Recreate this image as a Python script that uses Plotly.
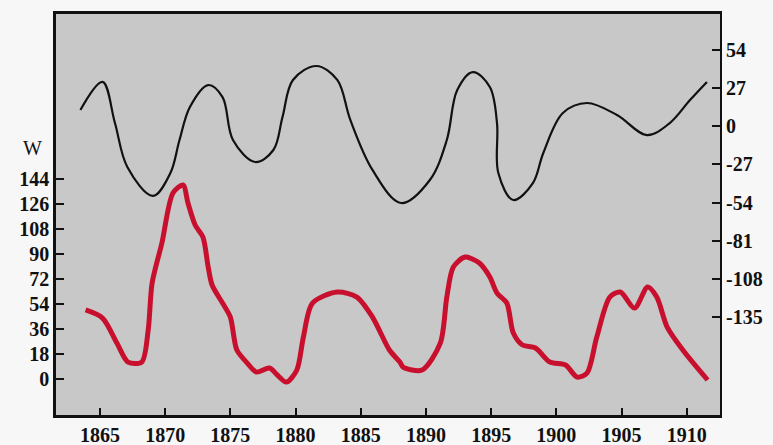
import plotly.graph_objects as go

# Black curve (right axis)
black_years = [1863.5, 1865.2, 1866.15, 1867.1, 1869.06, 1870.4, 1871.1, 1871.9, 1873.3, 1874.4,
               1875.2, 1876.9, 1878.3, 1879.0, 1879.8, 1881.6, 1883.2, 1884.2, 1885.9, 1888.1,
               1890.3, 1891.6, 1892.4, 1893.6, 1894.9, 1895.45, 1895.55, 1896.7, 1898.2, 1899.0,
               1900.5, 1902.35, 1904.65, 1906.95, 1908.7, 1910.25, 1911.55]
black_vals = [11.5, 31.4, 2.3, -28.8, -49.3, -33.1, -9.7, 13.7, 29.2, 20.7,
              -9.7, -25.3, -16.8, 6.6, 32.8, 42.7, 32.8, 4.5, -30.9, -54.3,
              -38.0, -9.7, 25.7, 38.4, 27.8, 2.3, -33.1, -52.2, -40.2, -18.9,
              9.4, 16.5, 8.0, -6.2, 2.3, 18.6, 31.4]

# Red curve W (left axis)
red_years = [1863.9, 1865.2, 1866.3, 1867.15, 1868.2, 1868.7, 1869.0, 1869.75, 1870.6, 1871.37,
             1871.75, 1872.3, 1872.9, 1873.3, 1873.6, 1874.4, 1875.0, 1875.5, 1876.3, 1877.0,
             1878.0, 1878.6, 1879.3, 1880.1, 1880.6, 1881.3, 1883.2, 1884.7, 1885.9, 1887.2,
             1888.0, 1888.25, 1889.7, 1891.1, 1891.6, 1892.1, 1893.0, 1894.1, 1894.9, 1895.45,
             1896.2, 1896.7, 1897.4, 1898.4, 1899.5, 1900.7, 1901.6, 1902.35, 1903.1, 1904.1,
             1904.9, 1906.0, 1907.0, 1907.7, 1908.5, 1909.7, 1911.6]
red_vals = [49.7, 43.9, 25.9, 12.2, 12.2, 35.3, 69.1, 97.9, 133.9, 139.7,
            126.7, 110.9, 102.2, 80.6, 67.7, 54.7, 44.6, 20.9, 11.5, 5.0,
            7.9, 2.9, -2.2, 6.5, 30.2, 54.7, 62.6, 59.0, 44.6, 20.9,
            12.2, 8.6, 6.5, 25.9, 59.0, 80.6, 87.8, 83.5, 73.4, 61.9,
            54.7, 33.1, 24.5, 22.3, 12.2, 10.1, 1.4, 4.3, 30.2, 59.0,
            62.6, 51.1, 66.2, 59.0, 37.4, 20.9, -0.7]

x_ticks = [1865, 1870, 1875, 1880, 1885, 1890, 1895, 1900, 1905, 1910]
left_ticks = [0, 18, 36, 54, 72, 90, 108, 126, 144]
right_ticks = [54, 27, 0, -27, -54, -81, -108, -135]

font_fam = "Liberation Serif"

fig = go.Figure()
fig.add_trace(go.Scatter(x=red_years, y=red_vals, mode="lines",
                         line=dict(color="#c8102e", width=5, shape="spline", smoothing=0.8),
                         yaxis="y", showlegend=False))
fig.add_trace(go.Scatter(x=black_years, y=black_vals, mode="lines",
                         line=dict(color="#111111", width=2.2, shape="spline", smoothing=1.0),
                         yaxis="y2", showlegend=False))

tickfont = dict(family=font_fam, size=20, color="#111111", weight="bold")

fig.update_layout(
    width=773, height=445,
    margin=dict(l=56, r=53, t=14, b=30),
    paper_bgcolor="#f7f7f7",
    plot_bgcolor="#c8c8c8",
    xaxis=dict(range=[1861.63, 1912.55], tickvals=x_ticks, ticktext=[str(v) for v in x_ticks],
               ticks="inside", ticklen=7, tickwidth=1.5, tickcolor="#111",
               showline=True, linecolor="#111", linewidth=2.5, mirror=True,
               showgrid=False, zeroline=False, tickfont=tickfont, automargin=False),
    yaxis=dict(range=[-25.9, 262.8], tickvals=left_ticks, ticktext=[str(v) for v in left_ticks],
               ticks="inside", ticklen=8, tickwidth=1.5, tickcolor="#111",
               showline=True, linecolor="#111", linewidth=2.5,
               showgrid=False, zeroline=False, tickfont=tickfont, automargin=False),
    yaxis2=dict(range=[-204.4, 79.5], tickvals=right_ticks, ticktext=[str(v) for v in right_ticks],
                overlaying="y", side="right",
                ticks="inside", ticklen=8, tickwidth=1.5, tickcolor="#111",
                showline=True, linecolor="#111", linewidth=2,
                showgrid=False, zeroline=False, tickfont=tickfont, automargin=False),
    annotations=[dict(text="W", xref="paper", yref="paper", x=-0.035, y=0.666,
                      showarrow=False, font=dict(family=font_fam, size=20, color="#111"),
                      xanchor="center", yanchor="middle")],
)

fig.write_html("out.html")
